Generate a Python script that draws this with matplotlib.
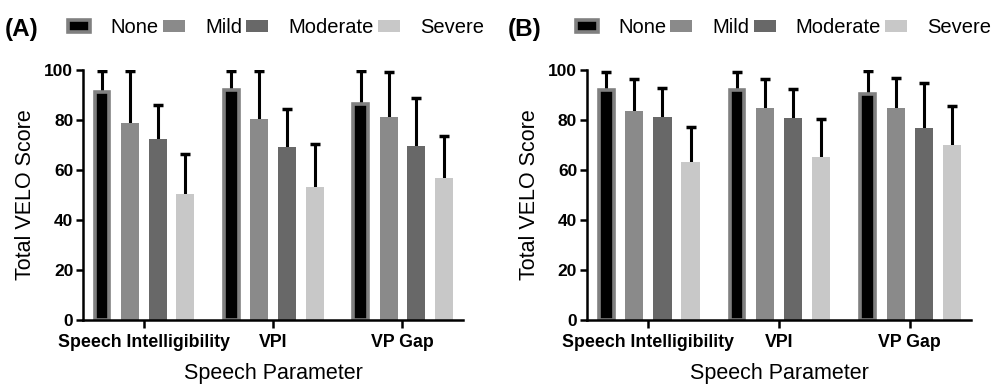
import numpy as np
import matplotlib
matplotlib.use('Agg')
from matplotlib import pyplot as plt

plt.rcParams['font.family'] = ['Liberation Sans', 'DejaVu Sans']

params = ['Speech Intelligibility', 'VPI', 'VP Gap']
groups = ['None', 'Mild', 'Moderate', 'Severe']
colors = ['#000000', '#8a8a8a', '#686868', '#c8c8c8']

# panel A: means and top of SD bar per group (rows), per parameter (cols)
mean_a = [[91.3, 91.9, 86.5],
          [78.7, 80.3, 81.3],
          [72.3, 69.3, 69.6],
          [50.4, 53.3, 56.7]]
top_a = [[99.6, 99.6, 99.6],
         [99.6, 99.6, 99.4],
         [86.0, 84.4, 88.9],
         [66.3, 70.3, 73.6]]

# panel B
mean_b = [[92.0, 92.0, 90.3],
          [83.6, 84.7, 84.7],
          [81.3, 80.7, 76.7],
          [63.1, 65.1, 70.0]]
top_b = [[99.2, 99.2, 99.6],
         [96.3, 96.4, 97.0],
         [92.7, 92.3, 94.9],
         [77.2, 80.3, 85.6]]

fig = plt.figure(figsize=(9.94, 3.85), dpi=100)
ax_a = fig.add_axes([0.0835, 0.169, 0.3825, 0.649])
ax_b = fig.add_axes([0.5905, 0.169, 0.3865, 0.649])

x = np.arange(len(params))
step = 0.215
w = 0.139


def draw(ax, means, tops, tag, leg_x):
    for i, g in enumerate(groups):
        pos = x + (i - 1.5) * step
        m = np.array(means[i])
        err = np.array(tops[i]) - m
        if i == 0:
            ax.bar(pos, m, width=w - 0.027, color=colors[i], edgecolor='#808080',
                   linewidth=2.6, label=g, zorder=2)
        else:
            ax.bar(pos, m, width=w, color=colors[i], label=g, zorder=2)
        eb = ax.errorbar(pos, m, yerr=[np.zeros_like(err), err], fmt='none',
                         ecolor='black', elinewidth=2.2, capsize=3.5, capthick=2.5, zorder=1)
        eb[1][0].set_visible(False)  # no cap at the bar top
    ax.set_xlim(-0.47, 2.47)
    ax.set_ylim(0, 100)
    ax.set_yticks([0, 20, 40, 60, 80, 100])
    ax.set_xticks(x)
    ax.set_xticklabels(params, fontsize=12.8, fontweight='bold')
    for t in ax.get_yticklabels():
        t.set_fontweight('bold')
        t.set_fontsize(12.5)
    for s in ['top', 'right']:
        ax.spines[s].set_visible(False)
    for s in ['left', 'bottom']:
        ax.spines[s].set_linewidth(1.8)
    ax.tick_params(axis='y', width=1.8, length=5, pad=2)
    ax.tick_params(axis='x', width=1.8, length=6, pad=4)
    ax.set_ylabel('Total VELO Score', fontsize=15.5, labelpad=6)
    ax.set_xlabel('Speech Parameter', fontsize=15.5, labelpad=9)
    ax.legend(ncol=4, loc='lower left', bbox_to_anchor=(leg_x, 1.1), frameon=False,
              fontsize=14.5, handlelength=1.1, handleheight=0.55, handletextpad=1.0,
              columnspacing=0.2, borderaxespad=0)
    ax.text(-0.205, 1.135, tag, transform=ax.transAxes, fontsize=17.5, fontweight='bold')


draw(ax_a, mean_a, top_a, '(A)', -0.06)
draw(ax_b, mean_b, top_b, '(B)', -0.05)

plt.savefig('out.png')
plt.close()
